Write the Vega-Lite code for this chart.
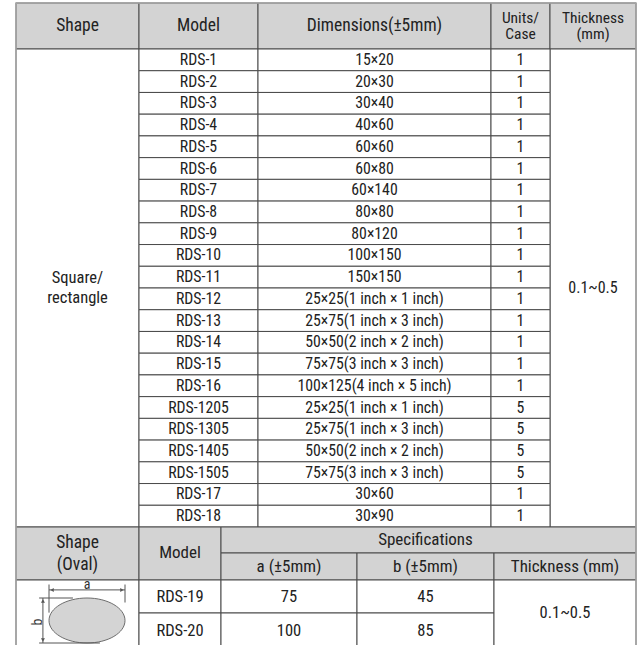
{
  "$schema": "https://vega.github.io/schema/vega-lite/v6.json",
  "width": 639,
  "height": 645,
  "padding": 0,
  "autosize": {"type": "none"},
  "background": "white",
  "config": {"view": {"stroke": null}},
  "datasets": {
    "topCells": [
      {"text": "Shape", "c0": 0, "c1": 1, "r0": 0, "r1": 1, "head": true},
      {"text": "Model", "c0": 1, "c1": 2, "r0": 0, "r1": 1, "head": true},
      {"text": "Dimensions(±5mm)", "c0": 2, "c1": 3, "r0": 0, "r1": 1, "head": true},
      {"text": "Units/\nCase", "c0": 3, "c1": 4, "r0": 0, "r1": 1, "head": true},
      {"text": "Thickness\n(mm)", "c0": 4, "c1": 5, "r0": 0, "r1": 1, "head": true},
      {"text": "Square/\nrectangle", "c0": 0, "c1": 1, "r0": 1, "r1": 23, "head": false},
      {"text": "0.1~0.5", "c0": 4, "c1": 5, "r0": 1, "r1": 23, "head": false}
    ],
    "cols": [
      {"col": "model", "c0": 1, "c1": 2},
      {"col": "dims", "c0": 2, "c1": 3},
      {"col": "units", "c0": 3, "c1": 4}
    ],
    "rows": [
      {"n": 1, "model": "RDS-1", "dims": "15×20", "units": "1"},
      {"n": 2, "model": "RDS-2", "dims": "20×30", "units": "1"},
      {"n": 3, "model": "RDS-3", "dims": "30×40", "units": "1"},
      {"n": 4, "model": "RDS-4", "dims": "40×60", "units": "1"},
      {"n": 5, "model": "RDS-5", "dims": "60×60", "units": "1"},
      {"n": 6, "model": "RDS-6", "dims": "60×80", "units": "1"},
      {"n": 7, "model": "RDS-7", "dims": "60×140", "units": "1"},
      {"n": 8, "model": "RDS-8", "dims": "80×80", "units": "1"},
      {"n": 9, "model": "RDS-9", "dims": "80×120", "units": "1"},
      {"n": 10, "model": "RDS-10", "dims": "100×150", "units": "1"},
      {"n": 11, "model": "RDS-11", "dims": "150×150", "units": "1"},
      {"n": 12, "model": "RDS-12", "dims": "25×25(1 inch × 1 inch)", "units": "1"},
      {"n": 13, "model": "RDS-13", "dims": "25×75(1 inch × 3 inch)", "units": "1"},
      {"n": 14, "model": "RDS-14", "dims": "50×50(2 inch × 2 inch)", "units": "1"},
      {"n": 15, "model": "RDS-15", "dims": "75×75(3 inch × 3 inch)", "units": "1"},
      {"n": 16, "model": "RDS-16", "dims": "100×125(4 inch × 5 inch)", "units": "1"},
      {"n": 17, "model": "RDS-1205", "dims": "25×25(1 inch × 1 inch)", "units": "5"},
      {"n": 18, "model": "RDS-1305", "dims": "25×75(1 inch × 3 inch)", "units": "5"},
      {"n": 19, "model": "RDS-1405", "dims": "50×50(2 inch × 2 inch)", "units": "5"},
      {"n": 20, "model": "RDS-1505", "dims": "75×75(3 inch × 3 inch)", "units": "5"},
      {"n": 21, "model": "RDS-17", "dims": "30×60", "units": "1"},
      {"n": 22, "model": "RDS-18", "dims": "30×90", "units": "1"}
    ],
    "botCells": [
      {"text": "Shape\n(Oval)", "c0": 0, "c1": 1, "r0": 23, "r1": 25, "head": true},
      {"text": "Model", "c0": 1, "c1": 2, "r0": 23, "r1": 25, "head": true},
      {"text": "Specifications", "c0": 2, "c1": 5, "r0": 23, "r1": 24, "head": true},
      {"text": "a (±5mm)", "c0": 2, "c1": 3, "r0": 24, "r1": 25, "head": true},
      {"text": "b (±5mm)", "c0": 3, "c1": 4, "r0": 24, "r1": 25, "head": true},
      {"text": "Thickness (mm)", "c0": 4, "c1": 5, "r0": 24, "r1": 25, "head": true},
      {"text": "", "c0": 0, "c1": 1, "r0": 25, "r1": 27, "head": false},
      {"text": "RDS-19", "c0": 1, "c1": 2, "r0": 25, "r1": 26, "head": false},
      {"text": "75", "c0": 2, "c1": 3, "r0": 25, "r1": 26, "head": false},
      {"text": "45", "c0": 3, "c1": 4, "r0": 25, "r1": 26, "head": false},
      {"text": "RDS-20", "c0": 1, "c1": 2, "r0": 26, "r1": 27, "head": false},
      {"text": "100", "c0": 2, "c1": 3, "r0": 26, "r1": 27, "head": false},
      {"text": "85", "c0": 3, "c1": 4, "r0": 26, "r1": 27, "head": false},
      {"text": "0.1~0.5", "c0": 4, "c1": 5, "r0": 25, "r1": 27, "head": false}
    ],
    "dimLines": [
      {"u0": -1, "u1": 1, "v0": -1.36, "v1": -1.36},
      {"u0": -1, "u1": -1, "v0": -1.6, "v1": -0.35},
      {"u0": 1, "u1": 1, "v0": -1.6, "v1": -0.8},
      {"u0": -1.16, "u1": -1.16, "v0": -1, "v1": 1},
      {"u0": -1.26, "u1": -0.37, "v0": -1, "v1": -1},
      {"u0": -1.26, "u1": 0.34, "v0": 1, "v1": 1}
    ],
    "arrows": [
      {"u": -0.92, "v": -1.36, "dir": "left"},
      {"u": 0.92, "v": -1.36, "dir": "right"},
      {"u": -1.16, "v": -0.87, "dir": "up"},
      {"u": -1.16, "v": 0.87, "dir": "down"}
    ],
    "dimLabels": [
      {"label": "a", "u": 0, "v": -1.56},
      {"label": "b", "u": -1.3, "v": 0.07}
    ]
  },
  "layer": [
    {
      "layer": [
        {
          "data": {"name": "topCells"},
          "transform": [
            {"calculate": "(datum.c0 + datum.c1) / 2", "as": "cm"},
            {"calculate": "(datum.r0 + datum.r1) / 2", "as": "rm"},
            {"calculate": "indexof(datum.text, '\\n') >= 0", "as": "multi"}
          ],
          "layer": [
            {
              "mark": {"type": "rect", "stroke": "#4a4a4a", "strokeWidth": 1},
              "encoding": {
                "x": {"field": "c0", "type": "quantitative", "axis": null, "scale": {"domain": [0, 1, 2, 3, 4, 5], "range": [16, 139, 258, 491, 550, 636], "nice": false, "zero": false}},
                "x2": {"field": "c1"},
                "y": {"field": "r0", "type": "quantitative", "axis": null, "scale": {"domain": [0, 1, 23, 24, 25, 26, 27], "range": [3, 49, 527, 553, 580, 613, 648], "nice": false, "zero": false}},
                "y2": {"field": "r1"},
                "fill": {"condition": {"test": "datum.head", "value": "#d3d3d3"}, "value": "#ffffff"}
              }
            },
            {
              "transform": [{"filter": "datum.head && !datum.multi"}],
              "mark": {"type": "text", "font": "Roboto Condensed, Liberation Sans Narrow, Roboto, sans-serif", "fontSize": 17.5, "color": "#222222", "baseline": "middle"},
              "encoding": {
                "x": {"field": "cm", "type": "quantitative", "axis": null, "scale": {"domain": [0, 1, 2, 3, 4, 5], "range": [16, 139, 258, 491, 550, 636], "nice": false, "zero": false}},
                "y": {"field": "rm", "type": "quantitative", "axis": null, "scale": {"domain": [0, 1, 23, 24, 25, 26, 27], "range": [3, 49, 527, 553, 580, 613, 648], "nice": false, "zero": false}},
                "text": {"field": "text"}
              }
            },
            {
              "transform": [{"filter": "datum.head && datum.multi"}],
              "mark": {"type": "text", "font": "Roboto Condensed, Liberation Sans Narrow, Roboto, sans-serif", "fontSize": 15.5, "lineHeight": 16, "dy": -8, "color": "#222222", "baseline": "middle", "lineBreak": "\n"},
              "encoding": {
                "x": {"field": "cm", "type": "quantitative", "axis": null, "scale": {"domain": [0, 1, 2, 3, 4, 5], "range": [16, 139, 258, 491, 550, 636], "nice": false, "zero": false}},
                "y": {"field": "rm", "type": "quantitative", "axis": null, "scale": {"domain": [0, 1, 23, 24, 25, 26, 27], "range": [3, 49, 527, 553, 580, 613, 648], "nice": false, "zero": false}},
                "text": {"field": "text"}
              }
            },
            {
              "transform": [{"filter": "!datum.head && datum.multi"}],
              "mark": {"type": "text", "font": "Roboto Condensed, Liberation Sans Narrow, Roboto, sans-serif", "fontSize": 16.5, "lineHeight": 20, "dy": -10, "color": "#222222", "baseline": "middle", "lineBreak": "\n"},
              "encoding": {
                "x": {"field": "cm", "type": "quantitative", "axis": null, "scale": {"domain": [0, 1, 2, 3, 4, 5], "range": [16, 139, 258, 491, 550, 636], "nice": false, "zero": false}},
                "y": {"field": "rm", "type": "quantitative", "axis": null, "scale": {"domain": [0, 1, 23, 24, 25, 26, 27], "range": [3, 49, 527, 553, 580, 613, 648], "nice": false, "zero": false}},
                "text": {"field": "text"}
              }
            },
            {
              "transform": [{"filter": "!datum.head && !datum.multi"}],
              "mark": {"type": "text", "font": "Roboto Condensed, Liberation Sans Narrow, Roboto, sans-serif", "fontSize": 16, "color": "#222222", "baseline": "middle"},
              "encoding": {
                "x": {"field": "cm", "type": "quantitative", "axis": null, "scale": {"domain": [0, 1, 2, 3, 4, 5], "range": [16, 139, 258, 491, 550, 636], "nice": false, "zero": false}},
                "y": {"field": "rm", "type": "quantitative", "axis": null, "scale": {"domain": [0, 1, 23, 24, 25, 26, 27], "range": [3, 49, 527, 553, 580, 613, 648], "nice": false, "zero": false}},
                "text": {"field": "text"}
              }
            }
          ]
        },
        {
          "data": {"name": "rows"},
          "transform": [
            {"fold": ["model", "dims", "units"], "as": ["col", "text"]},
            {"lookup": "col", "from": {"data": {"name": "cols"}, "key": "col", "fields": ["c0", "c1"]}},
            {"calculate": "datum.n", "as": "r0"},
            {"calculate": "datum.n + 1", "as": "r1"},
            {"calculate": "(datum.c0 + datum.c1) / 2", "as": "cm"},
            {"calculate": "datum.n + 0.5", "as": "rm"}
          ],
          "layer": [
            {
              "mark": {"type": "rect", "fill": "#ffffff", "stroke": "#4a4a4a", "strokeWidth": 1},
              "encoding": {
                "x": {"field": "c0", "type": "quantitative", "axis": null, "scale": {"domain": [0, 1, 2, 3, 4, 5], "range": [16, 139, 258, 491, 550, 636], "nice": false, "zero": false}},
                "x2": {"field": "c1"},
                "y": {"field": "r0", "type": "quantitative", "axis": null, "scale": {"domain": [0, 1, 23, 24, 25, 26, 27], "range": [3, 49, 527, 553, 580, 613, 648], "nice": false, "zero": false}},
                "y2": {"field": "r1"}
              }
            },
            {
              "mark": {"type": "text", "font": "Roboto Condensed, Liberation Sans Narrow, Roboto, sans-serif", "fontSize": 15.8, "color": "#222222", "baseline": "middle"},
              "encoding": {
                "x": {"field": "cm", "type": "quantitative", "axis": null, "scale": {"domain": [0, 1, 2, 3, 4, 5], "range": [16, 139, 258, 491, 550, 636], "nice": false, "zero": false}},
                "y": {"field": "rm", "type": "quantitative", "axis": null, "scale": {"domain": [0, 1, 23, 24, 25, 26, 27], "range": [3, 49, 527, 553, 580, 613, 648], "nice": false, "zero": false}},
                "text": {"field": "text"}
              }
            }
          ]
        }
      ]
    },
    {
      "data": {"name": "botCells"},
      "transform": [
        {"calculate": "(datum.c0 + datum.c1) / 2", "as": "cm"},
        {"calculate": "(datum.r0 + datum.r1) / 2", "as": "rm"},
        {"calculate": "indexof(datum.text, '\\n') >= 0", "as": "multi"}
      ],
      "layer": [
        {
          "mark": {"type": "rect", "stroke": "#4a4a4a", "strokeWidth": 1},
          "encoding": {
            "x": {"field": "c0", "type": "quantitative", "axis": null, "scale": {"domain": [0, 1, 2, 3, 4, 5], "range": [16, 139, 221, 357, 494, 636], "nice": false, "zero": false}},
            "x2": {"field": "c1"},
            "y": {"field": "r0", "type": "quantitative", "axis": null, "scale": {"domain": [0, 1, 23, 24, 25, 26, 27], "range": [3, 49, 527, 553, 580, 613, 648], "nice": false, "zero": false}},
            "y2": {"field": "r1"},
            "fill": {"condition": {"test": "datum.head", "value": "#d3d3d3"}, "value": "#ffffff"}
          }
        },
        {
          "transform": [{"filter": "!datum.multi"}],
          "mark": {"type": "text", "font": "Roboto Condensed, Liberation Sans Narrow, Roboto, sans-serif", "color": "#222222", "baseline": "middle"},
          "encoding": {
            "x": {"field": "cm", "type": "quantitative", "axis": null, "scale": {"domain": [0, 1, 2, 3, 4, 5], "range": [16, 139, 221, 357, 494, 636], "nice": false, "zero": false}},
            "y": {"field": "rm", "type": "quantitative", "axis": null, "scale": {"domain": [0, 1, 23, 24, 25, 26, 27], "range": [3, 49, 527, 553, 580, 613, 648], "nice": false, "zero": false}},
            "text": {"field": "text"},
            "size": {"condition": {"test": "datum.head", "value": 17}, "value": 16.5}
          }
        },
        {
          "transform": [{"filter": "datum.multi"}],
          "mark": {"type": "text", "font": "Roboto Condensed, Liberation Sans Narrow, Roboto, sans-serif", "fontSize": 17.5, "lineHeight": 22, "dy": -10, "color": "#222222", "baseline": "middle", "lineBreak": "\n"},
          "encoding": {
            "x": {"field": "cm", "type": "quantitative", "axis": null, "scale": {"domain": [0, 1, 2, 3, 4, 5], "range": [16, 139, 221, 357, 494, 636], "nice": false, "zero": false}},
            "y": {"field": "rm", "type": "quantitative", "axis": null, "scale": {"domain": [0, 1, 23, 24, 25, 26, 27], "range": [3, 49, 527, 553, 580, 613, 648], "nice": false, "zero": false}},
            "text": {"field": "text"}
          }
        },
        {
          "data": {"values": [{"c0": 0, "c1": 5, "r0": 0, "r1": 27}]},
          "mark": {"type": "rect", "fill": "#ffffff", "fillOpacity": 0, "stroke": "#a8a8a8", "strokeWidth": 1.5},
          "encoding": {
            "x": {"field": "c0", "type": "quantitative", "axis": null, "scale": {"domain": [0, 1, 2, 3, 4, 5], "range": [16, 139, 221, 357, 494, 636], "nice": false, "zero": false}},
            "x2": {"field": "c1"},
            "y": {"field": "r0", "type": "quantitative", "axis": null, "scale": {"domain": [0, 1, 23, 24, 25, 26, 27], "range": [3, 49, 527, 553, 580, 613, 648], "nice": false, "zero": false}},
            "y2": {"field": "r1"}
          }
        }
      ]
    },
    {
      "layer": [
        {
          "data": {"values": [{"u": 0, "v": 0}]},
          "mark": {"type": "point", "shape": "M-1,0C-1,-0.327,-0.552,-0.592,0,-0.592C0.552,-0.592,1,-0.327,1,0C1,0.327,0.552,0.592,0,0.592C-0.552,0.592,-1,0.327,-1,0Z", "size": 5776, "filled": true, "fill": "#d4d4d4", "stroke": "#6d6d6d", "strokeWidth": 1, "opacity": 1},
          "encoding": {
            "x": {"field": "u", "type": "quantitative", "axis": null, "scale": {"domain": [-1, 1], "range": [49, 125], "nice": false, "zero": false}},
            "y": {"field": "v", "type": "quantitative", "axis": null, "scale": {"domain": [-1, 1], "range": [598, 643], "nice": false, "zero": false}}
          }
        },
        {
          "data": {"name": "dimLines"},
          "mark": {"type": "rule", "color": "#555555", "strokeWidth": 1},
          "encoding": {
            "x": {"field": "u0", "type": "quantitative", "axis": null, "scale": {"domain": [-1, 1], "range": [49, 125], "nice": false, "zero": false}},
            "x2": {"field": "u1"},
            "y": {"field": "v0", "type": "quantitative", "axis": null, "scale": {"domain": [-1, 1], "range": [598, 643], "nice": false, "zero": false}},
            "y2": {"field": "v1"}
          }
        },
        {
          "data": {"name": "arrows"},
          "mark": {"type": "point", "filled": true, "color": "#555555", "size": 16, "opacity": 1},
          "encoding": {
            "x": {"field": "u", "type": "quantitative", "axis": null, "scale": {"domain": [-1, 1], "range": [49, 125], "nice": false, "zero": false}},
            "y": {"field": "v", "type": "quantitative", "axis": null, "scale": {"domain": [-1, 1], "range": [598, 643], "nice": false, "zero": false}},
            "shape": {"field": "dir", "type": "nominal", "legend": null, "scale": {"domain": ["left", "right", "up", "down"], "range": ["triangle-left", "triangle-right", "triangle-up", "triangle-down"]}}
          }
        },
        {
          "data": {"name": "dimLabels"},
          "mark": {"type": "text", "font": "Roboto Condensed, Liberation Sans Narrow, Roboto, sans-serif", "fontSize": 14, "color": "#333333", "baseline": "middle"},
          "encoding": {
            "x": {"field": "u", "type": "quantitative", "axis": null, "scale": {"domain": [-1, 1], "range": [49, 125], "nice": false, "zero": false}},
            "y": {"field": "v", "type": "quantitative", "axis": null, "scale": {"domain": [-1, 1], "range": [598, 643], "nice": false, "zero": false}},
            "text": {"field": "label"},
            "angle": {"condition": {"test": "datum.label === 'b'", "value": 270}, "value": 0}
          }
        }
      ]
    }
  ],
  "resolve": {"scale": {"x": "independent", "y": "independent", "shape": "independent"}}
}
